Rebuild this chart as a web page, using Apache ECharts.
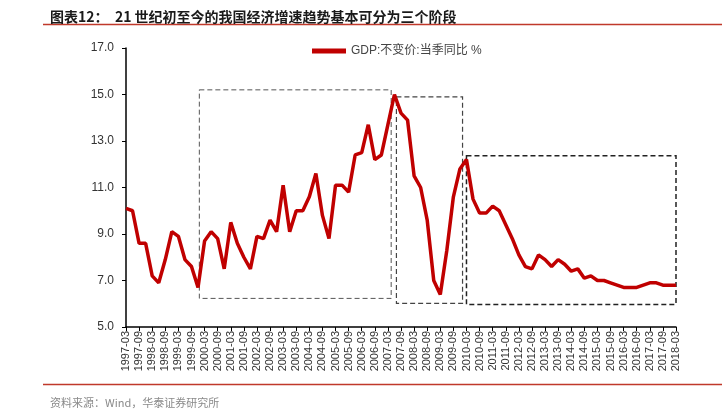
<!DOCTYPE html>
<html>
<head>
<meta charset="utf-8">
<script src="https://cdn.jsdelivr.net/npm/echarts@6/dist/echarts.min.js"></script>
<style>
html,body{margin:0;padding:0;background:#fff;}
#chart{width:722px;height:420px;}
</style>
</head>
<body>
<div id="chart"></div>
<script>
// Quarter labels 1997-03 .. 2018-03
const years = [1997,1998,1999,2000,2001,2002,2003,2004,2005,2006,2007,2008,2009,2010,2011,2012,2013,2014,2015,2016,2017,2018];
const quarterMonths = ['03','06','09','12'];
const categories = [];
years.forEach(y => quarterMonths.forEach(m => { if (!(y === 2018 && m !== '03')) categories.push(y + '-' + m); }));

// GDP:不变价:当季同比 (%)
const gdpYoY = [
  10.1, 10.0, 8.6, 8.6,
  7.2, 6.9, 7.9, 9.1,
  8.9, 7.9, 7.6, 6.7,
  8.7, 9.1, 8.8, 7.5,
  9.5, 8.6, 8.0, 7.5,
  8.9, 8.8, 9.6, 9.1,
  11.1, 9.1, 10.0, 10.0,
  10.6, 11.6, 9.8, 8.8,
  11.1, 11.1, 10.8, 12.4,
  12.5, 13.7, 12.2, 12.4,
  13.7, 15.0, 14.2, 13.9,
  11.5, 11.0, 9.6, 7.0,
  6.4, 8.3, 10.6, 11.8,
  12.2, 10.5, 9.9, 9.9,
  10.2, 10.0, 9.4, 8.8,
  8.1, 7.6, 7.5, 8.1,
  7.9, 7.6, 7.9, 7.7,
  7.4, 7.5, 7.1, 7.2,
  7.0, 7.0, 6.9, 6.8,
  6.7, 6.7, 6.7, 6.8,
  6.9, 6.9, 6.8, 6.8,
  6.8
];

// Stage boxes: [startIndex, endIndex, lowValue, highValue]
const stageBoxes = [
  [11.2, 40.5, 6.23, 15.2],
  [41.3, 51.4, 6.02, 14.9],
  [52.0, 84.5, 5.97, 12.37]
];

const seriesName = 'GDP:不变价:当季同比 %';
const titleText = '图表12：  21 世纪初至今的我国经济增速趋势基本可分为三个阶段';
const sourceText = '资料来源：Wind，华泰证券研究所';

const chart = echarts.init(document.getElementById('chart'), null, {renderer: 'canvas'});
const boxStyles = [
  {borderColor: '#555', borderWidth: 1},
  {borderColor: '#444', borderWidth: 1.2},
  {borderColor: '#222', borderWidth: 1.5}
];
const option = {
  backgroundColor: '#fff',
  animation: false,
  title: [
    {text: titleText, left: 45, top: 5,
     textStyle: {fontFamily: 'Noto Sans CJK SC', fontSize: 14, fontWeight: 'bold', color: '#1a1a1a'}},
    {text: sourceText, left: 45, top: 392,
     textStyle: {fontFamily: 'Noto Sans CJK SC', fontSize: 11, fontWeight: 'normal', color: '#8a8a8a'}}
  ],
  graphic: [
    {type: 'line', shape: {x1: 43, y1: 24.5, x2: 722, y2: 24.5}, style: {stroke: '#c0392b', lineWidth: 1.5}},
    {type: 'line', shape: {x1: 43, y1: 384.5, x2: 722, y2: 384.5}, style: {stroke: '#c0392b', lineWidth: 1.5}}
  ],
  legend: {
    left: 307, top: 40,
    icon: 'rect', itemWidth: 34, itemHeight: 5, itemGap: 6,
    textStyle: {fontFamily: 'Liberation Sans, Noto Sans CJK SC', fontSize: 12, color: '#444'},
    data: [seriesName]
  },
  grid: {left: 126, right: 46, top: 48, bottom: 93, containLabel: false},
  xAxis: {
    type: 'value', min: 0, max: categories.length - 1, interval: 2,
    axisLine: {show: true, lineStyle: {color: '#000', width: 1.5}},
    axisTick: {show: true, length: 4, lineStyle: {color: '#000'}},
    splitLine: {show: false},
    axisLabel: {
      rotate: 90, margin: 4, fontSize: 11, color: '#333',
      fontFamily: 'Liberation Sans, Arial',
      formatter: v => categories[v] || ''
    }
  },
  yAxis: {
    type: 'value', min: 5, max: 17, interval: 2,
    axisLine: {show: true, lineStyle: {color: '#000', width: 1.5}},
    axisTick: {show: true, length: 4, lineStyle: {color: '#000'}},
    splitLine: {show: false},
    axisLabel: {margin: 12, fontSize: 12, color: '#333', fontFamily: 'Liberation Sans, Arial',
      formatter: v => v.toFixed(1)}
  },
  series: [{
    name: seriesName,
    type: 'line',
    data: gdpYoY.map((v, i) => [i, v]),
    showSymbol: false,
    lineStyle: {color: '#c00000', width: 3.5},
    itemStyle: {color: '#c00000'},
    clip: false,
    markArea: {
      silent: true,
      label: {show: false},
      data: stageBoxes.map((b, k) => [
        {xAxis: b[0], yAxis: b[3], itemStyle: {color: 'rgba(0,0,0,0)', borderType: [5, 3], borderColor: boxStyles[k].borderColor, borderWidth: boxStyles[k].borderWidth}},
        {xAxis: b[1], yAxis: b[2]}
      ])
    }
  }]
};
chart.setOption(option);
</script>
</body>
</html>
